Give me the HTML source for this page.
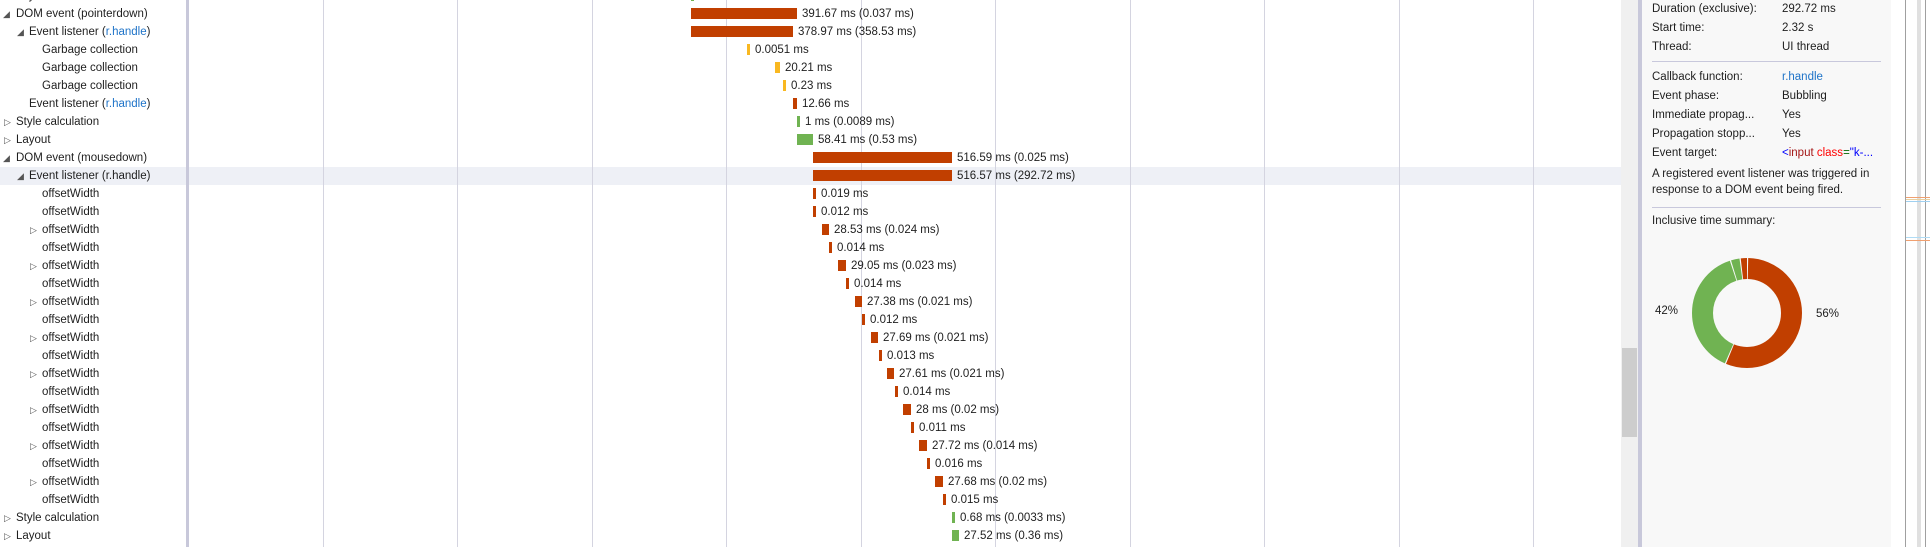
<!DOCTYPE html>
<html><head><meta charset="utf-8"><style>
*{margin:0;padding:0;box-sizing:border-box}
body{width:1930px;height:547px;overflow:hidden;background:#fff;font-family:"Liberation Sans",sans-serif;font-size:11.5px;color:#1e1e1e;position:relative}
.a{position:absolute;white-space:nowrap}
.r{position:absolute;left:0;height:18px;line-height:19px;white-space:nowrap}
.t{position:absolute;font-size:9px;color:#555}
.b{position:absolute;height:11px}
.R{background:#c13f00}.Y{background:#f9b821}.G{background:#70b352}
.l{position:absolute;height:18px;line-height:19px;white-space:nowrap}
.g{position:absolute;top:0;width:1px;height:547px;background:#d4d4e0}
.bl{color:#1e73c8}
.p{position:absolute;left:1652px;line-height:19px;white-space:nowrap}
.v{position:absolute;left:1782px;line-height:19px;white-space:nowrap}
</style></head><body>
<div class="a" style="left:0;top:167px;width:1621px;height:18px;background:#eef0f6"></div>
<div class="g" style="left:323px"></div><div class="g" style="left:457px"></div><div class="g" style="left:592px"></div><div class="g" style="left:726px"></div><div class="g" style="left:861px"></div><div class="g" style="left:995px"></div><div class="g" style="left:1130px"></div><div class="g" style="left:1264px"></div><div class="g" style="left:1399px"></div><div class="g" style="left:1533px"></div>
<div class="a" style="left:186px;top:0;width:3px;height:547px;background:#c8c8da"></div>

<div class="r" style="top:-13px;left:16px">Layout</div>
<div class="r" style="top:5px"><span class="t" style="left:3px">◢</span><span style="position:absolute;left:16px">DOM event (pointerdown)</span></div>
<div class="r" style="top:23px"><span class="t" style="left:17px">◢</span><span style="position:absolute;left:29px">Event listener (<span class="bl">r.handle</span>)</span></div>
<div class="r" style="top:41px;left:42px">Garbage collection</div>
<div class="r" style="top:59px;left:42px">Garbage collection</div>
<div class="r" style="top:77px;left:42px">Garbage collection</div>
<div class="r" style="top:95px;left:29px">Event listener (<span class="bl">r.handle</span>)</div>
<div class="r" style="top:113px"><span class="t" style="left:4px">▷</span><span style="position:absolute;left:16px">Style calculation</span></div>
<div class="r" style="top:131px"><span class="t" style="left:4px">▷</span><span style="position:absolute;left:16px">Layout</span></div>
<div class="r" style="top:149px"><span class="t" style="left:3px">◢</span><span style="position:absolute;left:16px">DOM event (mousedown)</span></div>
<div class="r" style="top:167px"><span class="t" style="left:17px">◢</span><span style="position:absolute;left:29px">Event listener (r.handle)</span></div>
<div class="r" style="top:185px;left:42px">offsetWidth</div>
<div class="r" style="top:203px;left:42px">offsetWidth</div>
<div class="r" style="top:221px"><span class="t" style="left:30px">▷</span><span style="position:absolute;left:42px">offsetWidth</span></div>
<div class="r" style="top:239px;left:42px">offsetWidth</div>
<div class="r" style="top:257px"><span class="t" style="left:30px">▷</span><span style="position:absolute;left:42px">offsetWidth</span></div>
<div class="r" style="top:275px;left:42px">offsetWidth</div>
<div class="r" style="top:293px"><span class="t" style="left:30px">▷</span><span style="position:absolute;left:42px">offsetWidth</span></div>
<div class="r" style="top:311px;left:42px">offsetWidth</div>
<div class="r" style="top:329px"><span class="t" style="left:30px">▷</span><span style="position:absolute;left:42px">offsetWidth</span></div>
<div class="r" style="top:347px;left:42px">offsetWidth</div>
<div class="r" style="top:365px"><span class="t" style="left:30px">▷</span><span style="position:absolute;left:42px">offsetWidth</span></div>
<div class="r" style="top:383px;left:42px">offsetWidth</div>
<div class="r" style="top:401px"><span class="t" style="left:30px">▷</span><span style="position:absolute;left:42px">offsetWidth</span></div>
<div class="r" style="top:419px;left:42px">offsetWidth</div>
<div class="r" style="top:437px"><span class="t" style="left:30px">▷</span><span style="position:absolute;left:42px">offsetWidth</span></div>
<div class="r" style="top:455px;left:42px">offsetWidth</div>
<div class="r" style="top:473px"><span class="t" style="left:30px">▷</span><span style="position:absolute;left:42px">offsetWidth</span></div>
<div class="r" style="top:491px;left:42px">offsetWidth</div>
<div class="r" style="top:509px"><span class="t" style="left:4px">▷</span><span style="position:absolute;left:16px">Style calculation</span></div>
<div class="r" style="top:527px"><span class="t" style="left:4px">▷</span><span style="position:absolute;left:16px">Layout</span></div>

<div class="b G" style="left:691px;top:-10px;width:3px"></div>
<div class="b R" style="left:691px;top:8px;width:106px"></div><div class="l" style="left:802px;top:5px">391.67 ms (0.037 ms)</div>
<div class="b R" style="left:691px;top:26px;width:102px"></div><div class="l" style="left:798px;top:23px">378.97 ms (358.53 ms)</div>
<div class="b Y" style="left:747px;top:44px;width:3px"></div><div class="l" style="left:755px;top:41px">0.0051 ms</div>
<div class="b Y" style="left:775px;top:62px;width:5px"></div><div class="l" style="left:785px;top:59px">20.21 ms</div>
<div class="b Y" style="left:783px;top:80px;width:3px"></div><div class="l" style="left:791px;top:77px">0.23 ms</div>
<div class="b R" style="left:793px;top:98px;width:4px"></div><div class="l" style="left:802px;top:95px">12.66 ms</div>
<div class="b G" style="left:797px;top:116px;width:3px"></div><div class="l" style="left:805px;top:113px">1 ms (0.0089 ms)</div>
<div class="b G" style="left:797px;top:134px;width:16px"></div><div class="l" style="left:818px;top:131px">58.41 ms (0.53 ms)</div>
<div class="b R" style="left:813px;top:152px;width:139px"></div><div class="l" style="left:957px;top:149px">516.59 ms (0.025 ms)</div>
<div class="b R" style="left:813px;top:170px;width:139px"></div><div class="l" style="left:957px;top:167px">516.57 ms (292.72 ms)</div>
<div class="b R" style="left:813px;top:188px;width:3px"></div><div class="l" style="left:821px;top:185px">0.019 ms</div>
<div class="b R" style="left:813px;top:206px;width:3px"></div><div class="l" style="left:821px;top:203px">0.012 ms</div>
<div class="b R" style="left:822px;top:224px;width:7px"></div><div class="l" style="left:834px;top:221px">28.53 ms (0.024 ms)</div>
<div class="b R" style="left:829px;top:242px;width:3px"></div><div class="l" style="left:837px;top:239px">0.014 ms</div>
<div class="b R" style="left:838px;top:260px;width:8px"></div><div class="l" style="left:851px;top:257px">29.05 ms (0.023 ms)</div>
<div class="b R" style="left:846px;top:278px;width:3px"></div><div class="l" style="left:854px;top:275px">0.014 ms</div>
<div class="b R" style="left:855px;top:296px;width:7px"></div><div class="l" style="left:867px;top:293px">27.38 ms (0.021 ms)</div>
<div class="b R" style="left:862px;top:314px;width:3px"></div><div class="l" style="left:870px;top:311px">0.012 ms</div>
<div class="b R" style="left:871px;top:332px;width:7px"></div><div class="l" style="left:883px;top:329px">27.69 ms (0.021 ms)</div>
<div class="b R" style="left:879px;top:350px;width:3px"></div><div class="l" style="left:887px;top:347px">0.013 ms</div>
<div class="b R" style="left:887px;top:368px;width:7px"></div><div class="l" style="left:899px;top:365px">27.61 ms (0.021 ms)</div>
<div class="b R" style="left:895px;top:386px;width:3px"></div><div class="l" style="left:903px;top:383px">0.014 ms</div>
<div class="b R" style="left:903px;top:404px;width:8px"></div><div class="l" style="left:916px;top:401px">28 ms (0.02 ms)</div>
<div class="b R" style="left:911px;top:422px;width:3px"></div><div class="l" style="left:919px;top:419px">0.011 ms</div>
<div class="b R" style="left:919px;top:440px;width:8px"></div><div class="l" style="left:932px;top:437px">27.72 ms (0.014 ms)</div>
<div class="b R" style="left:927px;top:458px;width:3px"></div><div class="l" style="left:935px;top:455px">0.016 ms</div>
<div class="b R" style="left:935px;top:476px;width:8px"></div><div class="l" style="left:948px;top:473px">27.68 ms (0.02 ms)</div>
<div class="b R" style="left:943px;top:494px;width:3px"></div><div class="l" style="left:951px;top:491px">0.015 ms</div>
<div class="b G" style="left:952px;top:512px;width:3px"></div><div class="l" style="left:960px;top:509px">0.68 ms (0.0033 ms)</div>
<div class="b G" style="left:952px;top:530px;width:7px"></div><div class="l" style="left:964px;top:527px">27.52 ms (0.36 ms)</div>

<div class="a" style="left:1621px;top:0;width:17px;height:547px;background:#f0f0f0"></div>
<div class="a" style="left:1622px;top:348px;width:15px;height:89px;background:#cdcdcd"></div>
<div class="a" style="left:1638px;top:0;width:4px;height:547px;background:#c8c8da"></div>
<div class="a" style="left:1642px;top:0;width:249px;height:547px;background:#f8f8f8"></div>
<div class="p" style="top:0">Duration (exclusive):</div><div class="v" style="top:0">292.72 ms</div>
<div class="p" style="top:19px">Start time:</div><div class="v" style="top:19px">2.32 s</div>
<div class="p" style="top:38px">Thread:</div><div class="v" style="top:38px">UI thread</div>
<div class="a" style="left:1652px;top:61px;width:229px;height:1px;background:#c8c8dc"></div>
<div class="p" style="top:68px">Callback function:</div><div class="v bl" style="top:68px">r.handle</div>
<div class="p" style="top:87px">Event phase:</div><div class="v" style="top:87px">Bubbling</div>
<div class="p" style="top:106px">Immediate propag...</div><div class="v" style="top:106px">Yes</div>
<div class="p" style="top:125px">Propagation stopp...</div><div class="v" style="top:125px">Yes</div>
<div class="p" style="top:144px">Event target:</div><div class="v" style="top:144px"><span style="color:#00f">&lt;</span><span style="color:#a31515">input</span> <span style="color:#f00">class</span><span style="color:#060">=</span><span style="color:#00f">"k-...</span></div>
<div class="p" style="top:166px;line-height:16px">A registered event listener was triggered in<br>response to a DOM event being fired.</div>
<div class="a" style="left:1652px;top:207px;width:229px;height:1px;background:#c8c8dc"></div>
<div class="p" style="top:212px">Inclusive time summary:</div>
<svg class="a" style="left:0;top:0" width="1930" height="547">
<g transform="translate(1747,313) rotate(-90)" fill="none" stroke-width="21">
<circle r="44.5" stroke="#c13f00" stroke-dasharray="156 1000" stroke-dashoffset="-1"/>
<circle r="44.5" stroke="#70b352" stroke-dasharray="107 1000" stroke-dashoffset="-158"/>
<circle r="44.5" stroke="#70b352" stroke-dasharray="7 1000" stroke-dashoffset="-266"/>
<circle r="44.5" stroke="#c13f00" stroke-dasharray="7 1000" stroke-dashoffset="-274"/>
</g>
<line x1="1905.5" y1="0" x2="1905.5" y2="547" stroke="#a0a0a0"/>
<rect x="1917" y="0" width="4" height="547" fill="#e0e0e0"/>
<line x1="1925.5" y1="0" x2="1925.5" y2="547" stroke="#a0a0a0"/>
<line x1="1906" y1="197.5" x2="1930" y2="197.5" stroke="#f0a070"/>
<line x1="1906" y1="199.5" x2="1930" y2="199.5" stroke="#e8d0a0"/>
<line x1="1906" y1="201.5" x2="1930" y2="201.5" stroke="#a0d0f0"/>
<line x1="1906" y1="237.5" x2="1930" y2="237.5" stroke="#b0dcf5"/>
<line x1="1906" y1="240.5" x2="1930" y2="240.5" stroke="#f0a070"/>
</svg>
<div class="a" style="left:1655px;top:305px">42%</div>
<div class="a" style="left:1816px;top:308px">56%</div>
</body></html>
